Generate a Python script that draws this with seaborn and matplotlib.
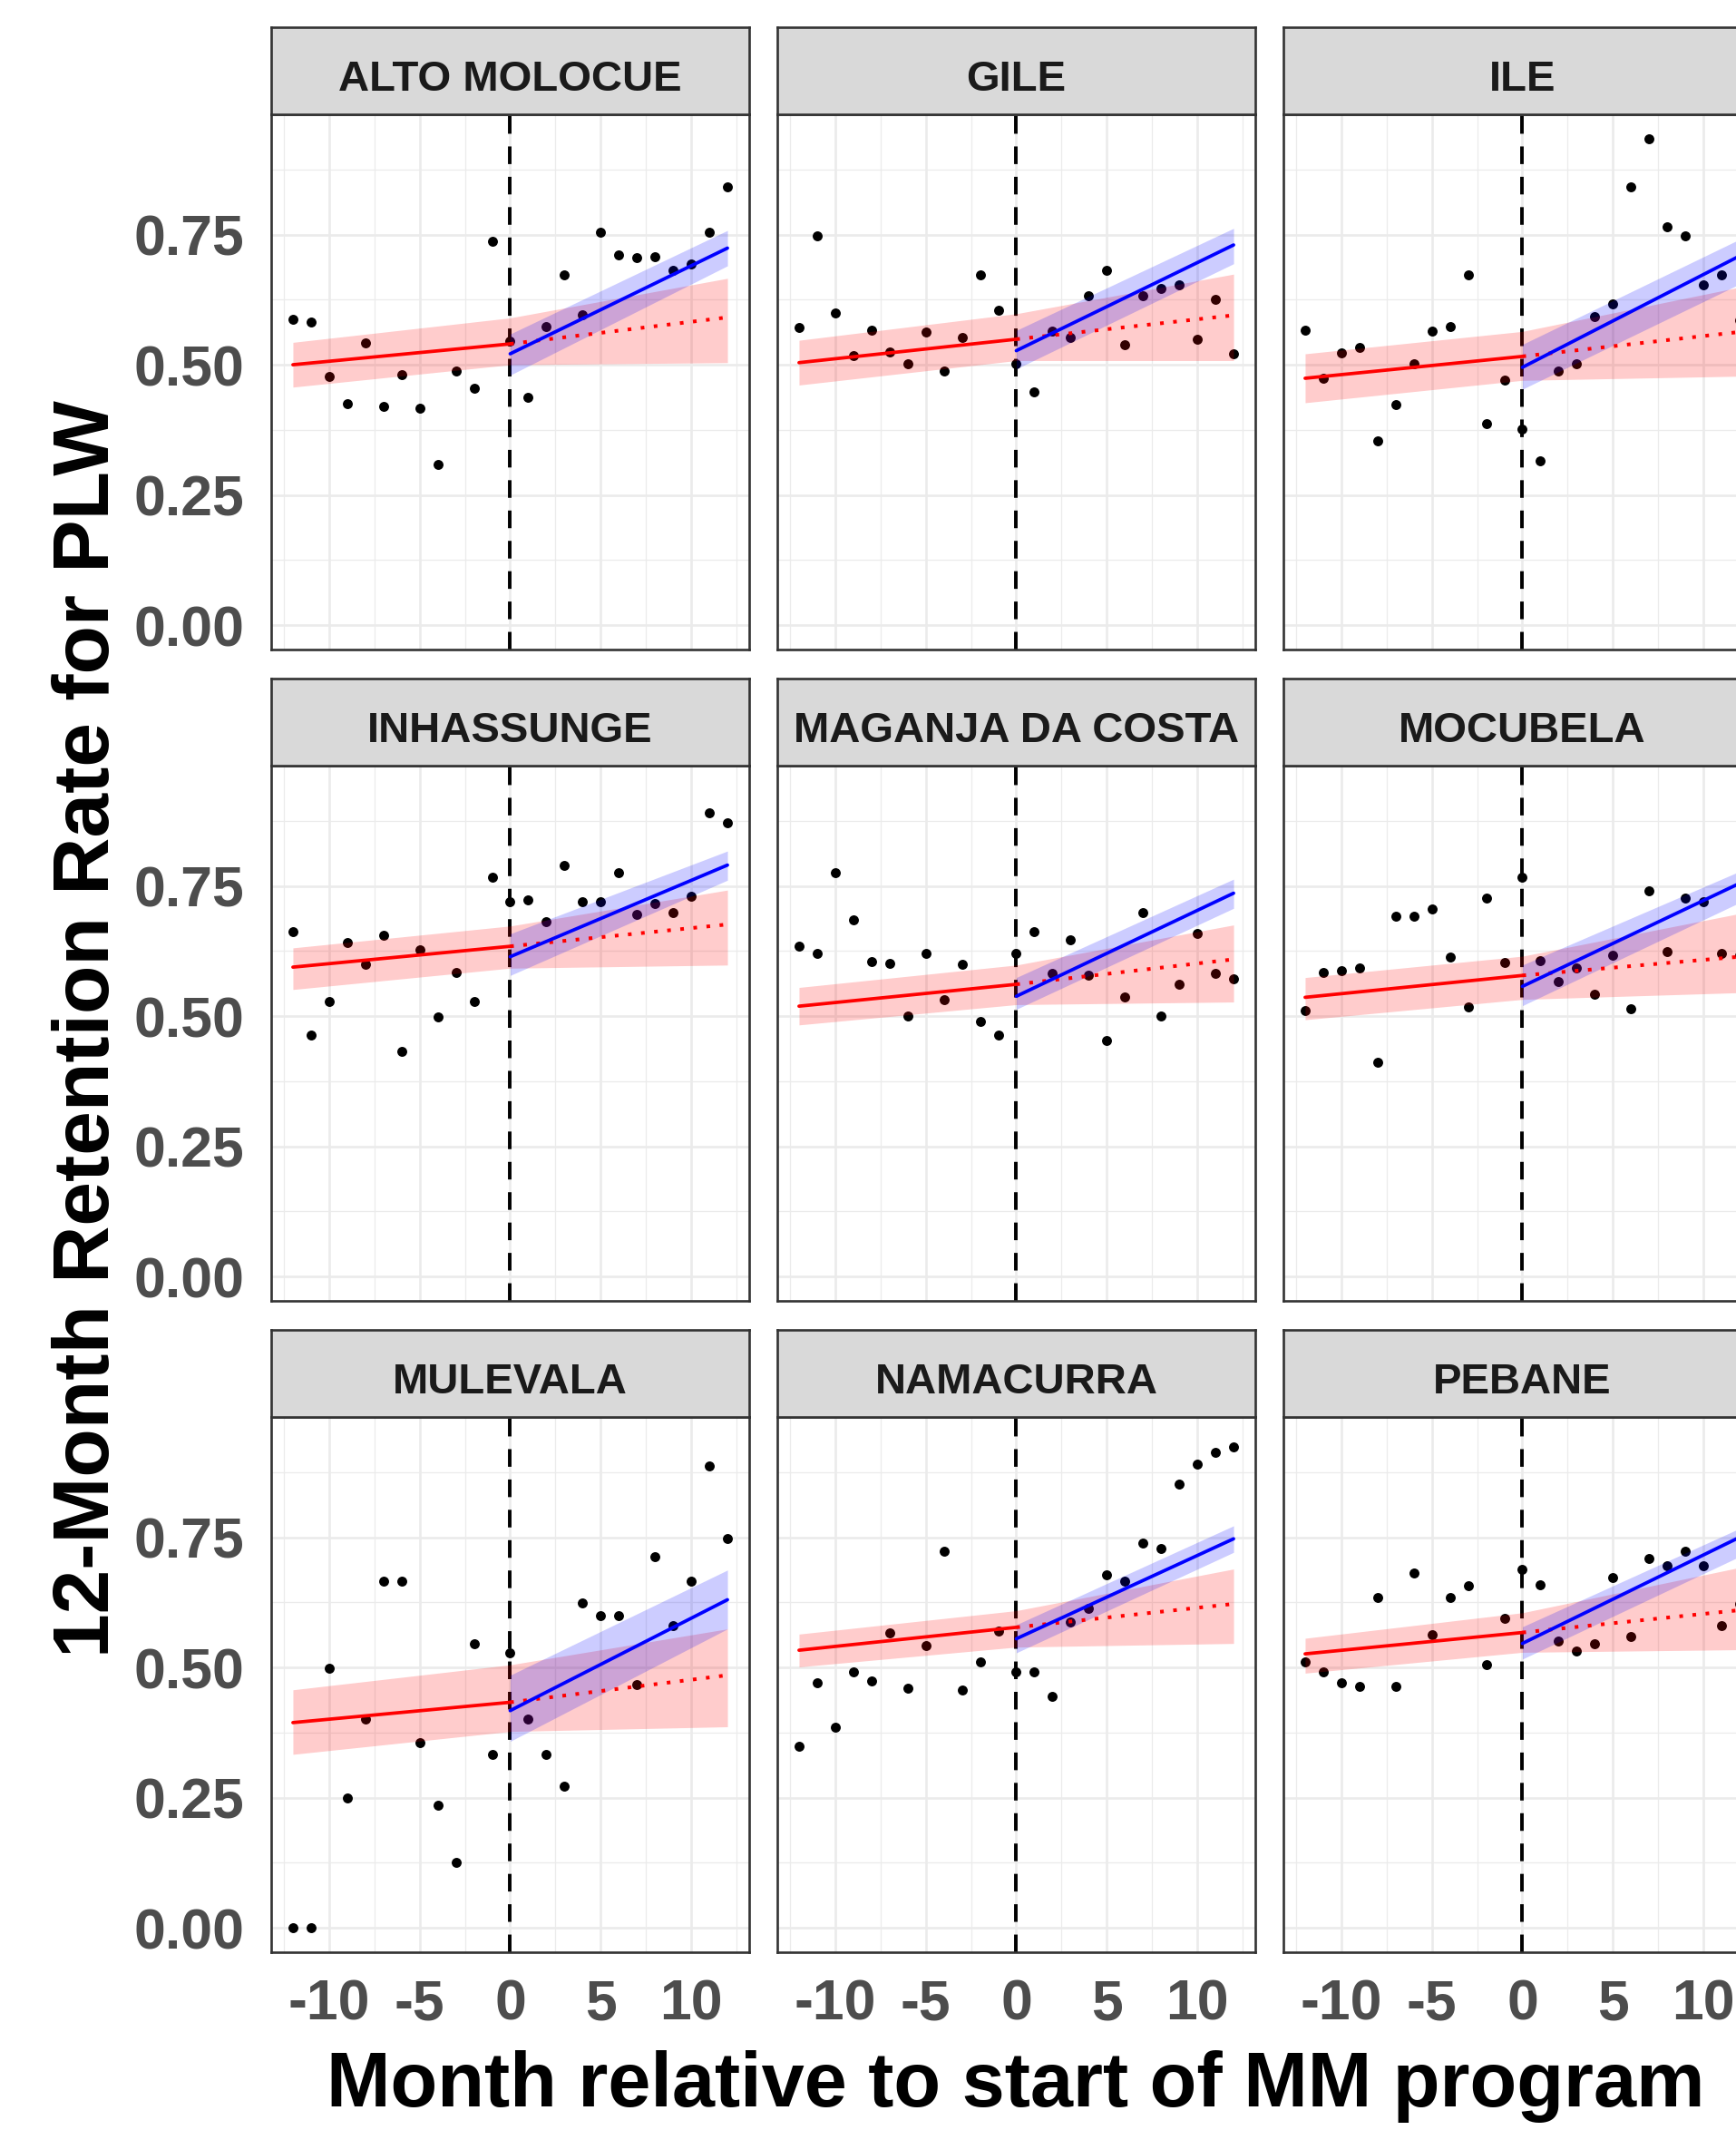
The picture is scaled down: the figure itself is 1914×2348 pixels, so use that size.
import matplotlib
matplotlib.use("Agg")
import matplotlib.pyplot as plt
import seaborn as sns

# one panel per district, months -12..12 around the start of the MM program
districts = ["ALTO MOLOCUE", "GILE", "ILE",
             "INHASSUNGE", "MAGANJA DA COSTA", "MOCUBELA",
             "MULEVALA", "NAMACURRA", "PEBANE"]
months = list(range(-12, 13))

retention = [
    [0.588, 0.582, 0.477, 0.426, 0.542, 0.420, 0.481, 0.416, 0.308, 0.488, 0.455, 0.737, 0.545,
     0.438, 0.574, 0.672, 0.596, 0.754, 0.711, 0.705, 0.707, 0.682, 0.693, 0.754, 0.841],
    [0.571, 0.747, 0.599, 0.517, 0.567, 0.524, 0.502, 0.563, 0.488, 0.553, 0.672, 0.604, 0.502,
     0.448, 0.564, 0.553, 0.633, 0.682, 0.539, 0.633, 0.646, 0.654, 0.549, 0.625, 0.521],
    [0.567, 0.474, 0.523, 0.534, 0.354, 0.423, 0.502, 0.564, 0.574, 0.672, 0.387, 0.470, 0.377,
     0.315, 0.488, 0.502, 0.592, 0.617, 0.841, 0.934, 0.765, 0.747, 0.654, 0.672, 0.585],
    [0.663, 0.464, 0.528, 0.641, 0.599, 0.655, 0.432, 0.627, 0.499, 0.584, 0.528, 0.766, 0.719,
     0.723, 0.681, 0.790, 0.719, 0.719, 0.776, 0.695, 0.716, 0.698, 0.730, 0.890, 0.872],
    [0.635, 0.621, 0.776, 0.684, 0.605, 0.602, 0.500, 0.621, 0.531, 0.599, 0.490, 0.464, 0.621,
     0.663, 0.582, 0.646, 0.578, 0.453, 0.536, 0.699, 0.500, 0.561, 0.659, 0.582, 0.571],
    [0.510, 0.584, 0.588, 0.592, 0.411, 0.692, 0.692, 0.705, 0.613, 0.518, 0.727, 0.603, 0.766,
     0.607, 0.567, 0.592, 0.542, 0.617, 0.514, 0.740, 0.624, 0.726, 0.719, 0.621, 0.617],
    [0.000, 0.000, 0.499, 0.249, 0.400, 0.666, 0.666, 0.356, 0.235, 0.125, 0.546, 0.332, 0.528,
     0.400, 0.332, 0.271, 0.623, 0.599, 0.599, 0.467, 0.713, 0.580, 0.666, 0.887, 0.748],
    [0.348, 0.470, 0.385, 0.491, 0.474, 0.567, 0.460, 0.542, 0.723, 0.456, 0.510, 0.570, 0.491,
     0.491, 0.445, 0.588, 0.613, 0.677, 0.666, 0.738, 0.728, 0.852, 0.891, 0.913, 0.923],
    [0.510, 0.491, 0.470, 0.464, 0.635, 0.464, 0.681, 0.563, 0.635, 0.657, 0.506, 0.595, 0.688,
     0.659, 0.550, 0.532, 0.546, 0.673, 0.559, 0.710, 0.696, 0.724, 0.696, 0.580, 0.622],
]

# fitted values: pre-period line (month -12 -> 0),
# counterfactual dotted line (0 -> 12) and post-period line (0 -> 12)
pre_start = [0.500, 0.504, 0.474, 0.594, 0.519, 0.536, 0.394, 0.533, 0.526]
pre_end = [0.540, 0.549, 0.516, 0.634, 0.561, 0.578, 0.433, 0.577, 0.567]
pre_lo_start = [0.457, 0.461, 0.427, 0.551, 0.483, 0.493, 0.333, 0.501, 0.489]
pre_hi_start = [0.543, 0.547, 0.521, 0.631, 0.555, 0.574, 0.457, 0.564, 0.556]
pre_lo_end = [0.500, 0.508, 0.470, 0.592, 0.522, 0.532, 0.377, 0.539, 0.529]
pre_hi_end = [0.590, 0.598, 0.564, 0.673, 0.598, 0.615, 0.505, 0.609, 0.605]

cf_end = [0.591, 0.595, 0.563, 0.676, 0.609, 0.614, 0.485, 0.622, 0.610]
cf_lo_end = [0.504, 0.508, 0.478, 0.598, 0.527, 0.545, 0.386, 0.546, 0.534]
cf_hi_end = [0.666, 0.674, 0.649, 0.742, 0.675, 0.697, 0.574, 0.689, 0.692]

post_start = [0.521, 0.527, 0.495, 0.614, 0.538, 0.557, 0.417, 0.555, 0.546]
post_end = [0.724, 0.730, 0.709, 0.790, 0.736, 0.755, 0.630, 0.747, 0.750]
post_lo_start = [0.480, 0.492, 0.453, 0.578, 0.513, 0.520, 0.358, 0.528, 0.516]
post_hi_start = [0.559, 0.566, 0.539, 0.658, 0.574, 0.598, 0.485, 0.582, 0.578]
post_lo_end = [0.690, 0.694, 0.655, 0.761, 0.707, 0.718, 0.574, 0.721, 0.713]
post_hi_end = [0.758, 0.762, 0.741, 0.817, 0.763, 0.778, 0.687, 0.772, 0.767]

x_ticks = [-10, -5, 0, 5, 10]
x_minor = [-12.5, -7.5, -2.5, 2.5, 7.5, 12.5]
y_ticks = [0.0, 0.25, 0.5, 0.75]
y_minor = [0.125, 0.375, 0.625, 0.875]

sns.set_style("white")
plt.rcParams["font.family"] = ["Liberation Sans", "DejaVu Sans"]
plt.rcParams["font.weight"] = "bold"

W, H = 1915, 2348
fig = plt.figure(figsize=(W / 100, H / 100), dpi=100)

# layout in pixels (third column runs past the right edge, as in the reference)
col_left = [299, 857, 1415]
row_top = [126, 844, 1562]
panel_w, panel_h = 527, 590
strip_h = 96

dark = "#333333"
grey_txt = "#4D4D4D"
grid_col = "#EBEBEB"


def box(x, y, w, h):
    return [x / W, 1 - (y + h) / H, w / W, h / H]


for i, name in enumerate(districts):
    r, c = divmod(i, 3)
    ax = fig.add_axes(box(col_left[c], row_top[r], panel_w, panel_h))

    ax.axvline(0, color="black", lw=2.8, linestyle=(0, (5.0, 3.6)), zorder=1.5)

    sns.scatterplot(x=months, y=retention[i], color="black", s=62,
                    linewidth=0, ax=ax, zorder=2)

    # counterfactual band (pre fit extended) and post band
    ax.fill_between([-12, 0, 12],
                    [pre_lo_start[i], pre_lo_end[i], cf_lo_end[i]],
                    [pre_hi_start[i], pre_hi_end[i], cf_hi_end[i]],
                    color="red", alpha=0.2, lw=0, zorder=3)
    ax.fill_between([0, 12],
                    [post_lo_start[i], post_lo_end[i]],
                    [post_hi_start[i], post_hi_end[i]],
                    color="blue", alpha=0.2, lw=0, zorder=3)

    sns.lineplot(x=[-12, 0], y=[pre_start[i], pre_end[i]], color="red",
                 lw=2.7, ax=ax, zorder=4)
    sns.lineplot(x=[0, 12], y=[pre_end[i], cf_end[i]], color="red",
                 lw=2.9, linestyle=(0, (1.0, 2.6)), ax=ax, zorder=4)
    sns.lineplot(x=[0, 12], y=[post_start[i], post_end[i]], color="blue",
                 lw=2.7, ax=ax, zorder=4)

    ax.set_xlim(-13.2, 13.2)
    ax.set_ylim(-0.047, 0.981)
    ax.set_xticks(x_ticks)
    ax.set_xticks(x_minor, minor=True)
    ax.set_yticks(y_ticks)
    ax.set_yticks(y_minor, minor=True)
    ax.set_xticklabels([str(t) for t in x_ticks])
    ax.set_yticklabels([f"{t:.2f}" for t in y_ticks])
    ax.grid(which="major", color=grid_col, lw=1.9)
    ax.grid(which="minor", color=grid_col, lw=0.9)
    ax.set_axisbelow(True)
    ax.set_xlabel("")
    ax.set_ylabel("")
    for sp in ax.spines.values():
        sp.set_color(dark)
        sp.set_linewidth(1.9)

    ax.tick_params(which="minor", length=0)
    ax.tick_params(axis="both", which="major", length=11.5, width=1.7,
                   color=dark, labelcolor=grey_txt, labelsize=45)
    ax.tick_params(axis="x", pad=9)
    ax.tick_params(axis="y", pad=10)
    if r < 2:
        ax.tick_params(axis="x", which="major", length=0, labelbottom=False)
    if c > 0:
        ax.tick_params(axis="y", which="major", length=0, labelleft=False)

    # facet strip
    sax = fig.add_axes(box(col_left[c], row_top[r] - strip_h, panel_w, strip_h))
    sax.set_facecolor("#D9D9D9")
    sax.set_xticks([])
    sax.set_yticks([])
    for sp in sax.spines.values():
        sp.set_color(dark)
        sp.set_linewidth(1.9)
    sax.text(0.5, 0.27, name, ha="center", va="baseline", fontsize=34,
             fontweight="bold", color="#1A1A1A", transform=sax.transAxes)

fig.text(120 / W, 1 - 1134 / H, "12-Month Retention Rate for PLW",
         rotation=90, rotation_mode="anchor", ha="center", va="baseline",
         fontsize=63, fontweight="bold", color="black")
fig.text(1120 / W, 1 - 2322 / H, "Month relative to start of MM program",
         ha="center", va="baseline", fontsize=61, fontweight="bold", color="black")

fig.savefig("out.png", dpi=100, facecolor="white")
